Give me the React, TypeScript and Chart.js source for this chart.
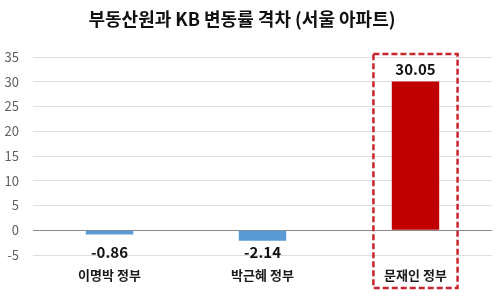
import React, { useEffect, useRef } from "react";
import { Chart, registerables } from "chart.js";

Chart.register(...registerables);

const TITLE = "부동산원과 KB 변동률 격차 (서울 아파트)";
const categories = ["이명박 정부", "박근혜 정부", "문재인 정부"];
const values = [-0.86, -2.14, 30.05];
const barColors = ["#5B9BD5", "#5B9BD5", "#C00000"];
const yMin = -5;
const yMax = 35;
const yStep = 5;
const highlightIndex = 2;

const FONT = "'Noto Sans CJK KR', 'Noto Sans', sans-serif";

const overlayPlugin = {
  id: "overlay",
  afterDatasetsDraw(chart: any) {
    const ctx = chart.ctx;
    const meta = chart.getDatasetMeta(0);
    const yScale = chart.scales.y;
    ctx.save();
    ctx.fillStyle = "#111111";
    ctx.font = `bold 15px ${FONT}`;
    ctx.textAlign = "center";
    ctx.textBaseline = "middle";
    meta.data.forEach((bar: any, i: number) => {
      const v = values[i];
      const label = v.toFixed(2);
      if (v >= 0) {
        ctx.fillText(label, bar.x, bar.y - 12);
      } else {
        ctx.fillText(label, bar.x, yScale.getPixelForValue(-4.4));
      }
    });
    ctx.restore();
  },
  afterDraw(chart: any) {
    const ctx = chart.ctx;
    const xScale = chart.scales.x;
    const yScale = chart.scales.y;
    ctx.save();
    // title
    ctx.fillStyle = "#111111";
    ctx.font = `bold 18px ${FONT}`;
    ctx.textAlign = "center";
    ctx.textBaseline = "middle";
    ctx.fillText(TITLE, 242, 19);
    // highlight dashed box
    const cx = xScale.getPixelForValue(highlightIndex);
    const catW = xScale.width / categories.length;
    const half = catW * 0.275;
    const top = yScale.getPixelForValue(yMax) - 3;
    const bottom = 288;
    ctx.strokeStyle = "#C8252C";
    ctx.lineWidth = 2.5;
    ctx.setLineDash([6, 3]);
    ctx.strokeRect(cx - half, top, half * 2, bottom - top);
    ctx.restore();
  },
};

export default function App() {
  const canvasRef = useRef<HTMLCanvasElement | null>(null);

  useEffect(() => {
    if (!canvasRef.current) return;
    const chart = new Chart(canvasRef.current, {
      type: "bar",
      data: {
        labels: categories,
        datasets: [
          {
            data: values,
            backgroundColor: barColors,
            borderWidth: 0,
            barPercentage: 0.31,
            categoryPercentage: 1,
          },
        ],
      },
      options: {
        responsive: false,
        animation: false,
        layout: { padding: { top: 57, right: 8, left: 0, bottom: 0 } },
        plugins: {
          legend: { display: false },
          tooltip: { enabled: false },
          title: { display: false },
        },
        scales: {
          x: {
            grid: { display: false, drawTicks: false },
            border: { display: false },
            ticks: {
              color: "#1a1a1a",
              font: { family: FONT, size: 13, weight: "bold" },
              padding: 12,
            },
            afterFit(scale: any) {
              scale.height = 48;
            },
          },
          y: {
            min: yMin,
            max: yMax,
            grid: {
              drawTicks: false,
              color: (ctx: any) => (ctx.tick && ctx.tick.value === 0 ? "#8a8a8a" : "#dedede"),
              lineWidth: 1,
            },
            border: { display: false },
            ticks: {
              stepSize: yStep,
              color: "#606060",
              font: { family: FONT, size: 13 },
              padding: 14,
            },
            afterFit(scale: any) {
              scale.width = 33;
            },
          },
        },
      },
      plugins: [overlayPlugin],
    });
    return () => chart.destroy();
  }, []);

  return (
    <div style={{ position: "fixed", left: 0, top: 0, width: 500, height: 303, background: "#fff" }}>
      <canvas ref={canvasRef} width={500} height={303} style={{ width: 500, height: 303, display: "block" }} />
    </div>
  );
}
